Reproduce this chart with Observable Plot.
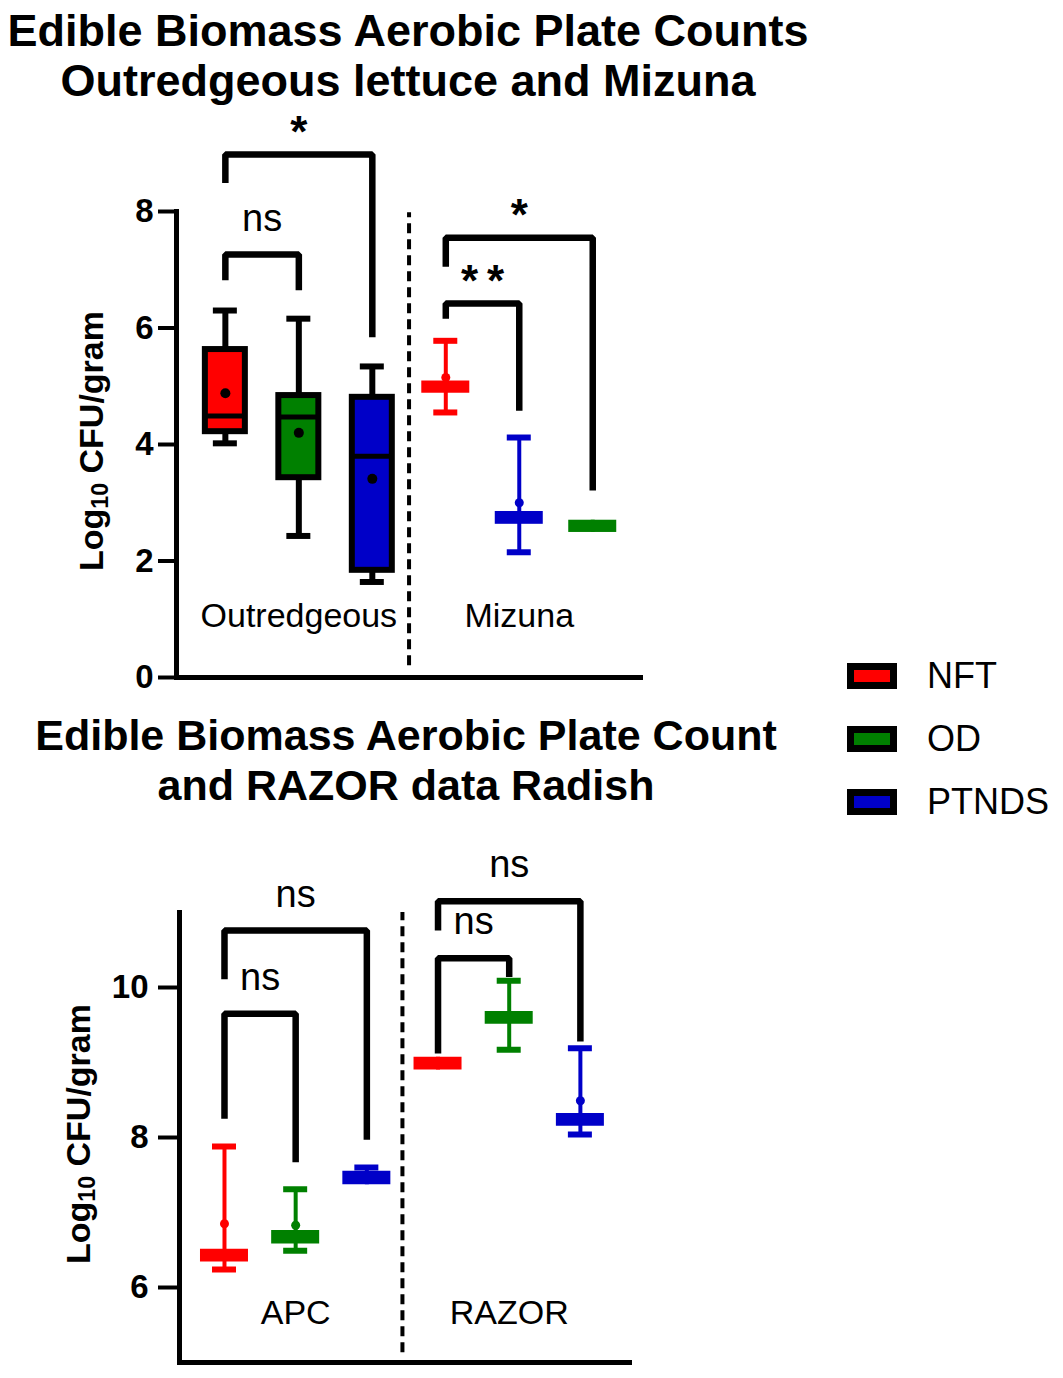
<!DOCTYPE html>
<html>
<head>
<meta charset="utf-8">
<script src="https://cdn.jsdelivr.net/npm/d3@7"></script>
<script src="https://cdn.jsdelivr.net/npm/@observablehq/plot@0.6"></script>
<style>
  html, body { margin: 0; padding: 0; background: #fff; }
  body { width: 1063px; height: 1378px; position: relative; overflow: hidden;
         font-family: "Liberation Sans", Arial, sans-serif; color: #000; }
  .title { position: absolute; left: 0; width: 816px; text-align: center;
           font-weight: bold; line-height: 50px; white-space: nowrap; }
  .ylab { position: absolute; font-weight: bold; font-size: 34px; line-height: 34px;
          white-space: nowrap; transform: translate(-50%, -50%) rotate(-90deg); }
  .ylab sub { font-size: 0.68em; vertical-align: -0.2em; line-height: 0; }
  .panel { position: absolute; left: 0; }
  .sw { position: absolute; left: 847px; width: 50px; height: 26px; box-sizing: border-box;
        border: 7px solid #000; }
  .lt { position: absolute; left: 927px; font-size: 36px; line-height: 37px; white-space: nowrap; }
</style>
</head>
<body>
<div class="title" style="top:6px; font-size:45px">Edible Biomass Aerobic Plate Counts<br>Outredgeous lettuce and Mizuna</div>
<div class="title" style="top:710px; width:812px; font-size:43px">Edible Biomass Aerobic Plate Count<br>and RAZOR data Radish</div>
<div class="ylab" style="left:91px; top:441px">Log<sub>10</sub> CFU/gram</div>
<div class="ylab" style="left:78px; top:1134px">Log<sub>10</sub> CFU/gram</div>
<div id="top" class="panel" style="top:110px"></div>
<div id="bot" class="panel" style="top:800px"></div>
<div id="legend"></div>
<script>
// ---------- shared ----------
const treatments = ["NFT", "OD", "PTNDS"];
const treatmentColors = ["#ff0000", "#008000", "#0000c8"];

// ---------- top panel: Outredgeous lettuce and Mizuna ----------
const topGroups     = ["Outredgeous", "Outredgeous", "Outredgeous", "Mizuna", "Mizuna", "Mizuna"];
const topTreatments = ["NFT", "OD", "PTNDS", "NFT", "PTNDS", "OD"];
const topMin    = [4.02, 2.43, 1.64, 4.55, 2.15, 2.49];
const topQ1     = [4.22, 3.43, 1.84, 4.88, 2.63, 2.49];
const topMedian = [4.49, 4.47, 3.80, 4.99, 2.74, 2.60];
const topQ3     = [5.63, 4.84, 4.81, 5.09, 2.85, 2.70];
const topMax    = [6.30, 6.16, 5.34, 5.78, 4.12, 2.70];
const topMean   = [4.88, 4.20, 3.41, 5.15, 3.00, 2.60];
const topYTicks = [0, 2, 4, 6, 8];
// significance brackets (indices into the category order)
const topBrFrom  = [0, 0, 3, 3];
const topBrTo    = [1, 2, 5, 4];
const topBrTop   = [7.26, 8.98, 7.55, 6.42];
const topBrLeft  = [6.82, 8.49, 7.05, 6.16];
const topBrRight = [6.65, 5.84, 3.21, 4.58];
const topBrLabel = ["ns", "*", "*", "*\u2009*"];

// ---------- bottom panel: Radish APC and RAZOR ----------
const botGroups     = ["APC", "APC", "APC", "RAZOR", "RAZOR", "RAZOR"];
const botTreatments = ["NFT", "OD", "PTNDS", "NFT", "OD", "PTNDS"];
const botMin    = [6.24, 6.49, 7.37, 8.90, 9.17, 8.04];
const botQ1     = [6.34, 6.58, 7.37, 8.90, 9.51, 8.15];
const botMedian = [6.42, 6.67, 7.46, 8.98, 9.59, 8.23];
const botQ3     = [6.51, 6.76, 7.55, 9.07, 9.68, 8.32];
const botMax    = [7.88, 7.31, 7.60, 9.07, 10.09, 9.19];
const botMean   = [6.85, 6.83, 7.47, 8.98, 9.62, 8.49];
const botYTicks = [6, 8, 10];
const botBrFrom  = [0, 0, 3, 3];
const botBrTo    = [1, 2, 4, 5];
const botBrTop   = [9.65, 10.76, 10.39, 11.15];
const botBrLeft  = [8.25, 10.11, 9.12, 10.76];
const botBrRight = [7.67, 7.97, 10.14, 9.28];
const botBrLabel = ["ns", "ns", "ns", "ns"];

const FONT = "Liberation Sans, Arial, sans-serif";

function buildPanel(cfg) {
  const rows = cfg.treatments.map((t, i) => ({
    group: cfg.groups[i], treatment: t, pos: i,
    min: cfg.min[i], q1: cfg.q1[i], median: cfg.median[i],
    q3: cfg.q3[i], max: cfg.max[i], mean: cfg.mean[i]
  }));
  const groupNames = Array.from(new Set(cfg.groups));
  const groupLabels = groupNames.map(g => ({
    group: g, pos: d3.mean(rows.filter(r => r.group === g), r => r.pos)
  }));
  const separators = groupNames.slice(1).map(g => {
    const first = rows.find(r => r.group === g).pos;
    return {pos: first - 0.5};
  });
  const brackets = cfg.brFrom.map((f, i) => ({
    id: i, from: f, to: cfg.brTo[i], mid: (f + cfg.brTo[i]) / 2, top: cfg.brTop[i],
    left: cfg.brLeft[i], right: cfg.brRight[i], label: cfg.brLabel[i]
  }));
  const bracketPts = brackets.flatMap(b => [
    {id: b.id, x: b.from, y: b.left},
    {id: b.id, x: b.from, y: b.top},
    {id: b.id, x: b.to, y: b.top},
    {id: b.id, x: b.to, y: b.right}
  ]);

  // convert a pixel half-width into x-units
  const innerW = cfg.width - cfg.marginLeft - cfg.marginRight;
  const u = px => px * (cfg.xDomain[1] - cfg.xDomain[0]) / innerW;

  const boxed = d => cfg.boxedGroups.includes(d.group);
  const plain = d => !boxed(d);

  const boxHalf = u(cfg.boxHalfPx), barHalf = u(cfg.barHalfPx), capHalf = u(cfg.capHalfPx);

  return Plot.plot({
    width: cfg.width, height: cfg.height,
    marginLeft: cfg.marginLeft, marginRight: cfg.marginRight,
    marginTop: cfg.marginTop, marginBottom: cfg.marginBottom,
    style: {fontFamily: FONT, background: "transparent", color: "#000", overflow: "visible"},
    x: {domain: cfg.xDomain, axis: null},
    y: {domain: cfg.yDomain},
    color: {domain: treatments, range: treatmentColors},
    marks: [
      Plot.frame({anchor: "left", stroke: "#000", strokeWidth: 5, strokeLinecap: "square"}),
      Plot.frame({anchor: "bottom", stroke: "#000", strokeWidth: 5, strokeLinecap: "square"}),
      Plot.axisY({ticks: cfg.yTicks, tickFormat: d3.format("d"), tickSize: cfg.tickSize, tickPadding: cfg.tickPadding,
                  strokeWidth: 4, fontSize: 33, fontWeight: "bold", label: null, fill: "#000"}),
      // group separator
      Plot.ruleX(separators, {x: "pos", y1: cfg.sepY[0], y2: cfg.sepY[1], stroke: "#000",
                              strokeWidth: 4, strokeDasharray: "10,6"}),
      // whiskers
      Plot.ruleX(rows, {filter: boxed, x: "pos", y1: "min", y2: "max", stroke: "#000", strokeWidth: 6}),
      Plot.ruleX(rows, {filter: plain, x: "pos", y1: "min", y2: "max", stroke: "treatment", strokeWidth: 4}),
      // caps
      Plot.ruleY(rows, {filter: d => boxed(d), y: "max", x1: d => d.pos - capHalf, x2: d => d.pos + capHalf, stroke: "#000", strokeWidth: 6}),
      Plot.ruleY(rows, {filter: d => boxed(d), y: "min", x1: d => d.pos - capHalf, x2: d => d.pos + capHalf, stroke: "#000", strokeWidth: 6}),
      Plot.ruleY(rows, {filter: d => plain(d) && d.max > d.q3, y: "max", x1: d => d.pos - capHalf, x2: d => d.pos + capHalf, stroke: "treatment", strokeWidth: 6}),
      Plot.ruleY(rows, {filter: d => plain(d) && d.min < d.q1, y: "min", x1: d => d.pos - capHalf, x2: d => d.pos + capHalf, stroke: "treatment", strokeWidth: 6}),
      // boxes
      Plot.rect(rows, {filter: boxed, x1: d => d.pos - boxHalf, x2: d => d.pos + boxHalf, y1: "q1", y2: "q3",
                       fill: "treatment", stroke: "#000", strokeWidth: 6}),
      Plot.rect(rows, {filter: plain, x1: d => d.pos - barHalf, x2: d => d.pos + barHalf, y1: "q1", y2: "q3",
                       fill: "treatment"}),
      // medians
      Plot.ruleY(rows, {filter: boxed, y: "median", x1: d => d.pos - boxHalf, x2: d => d.pos + boxHalf, stroke: "#000", strokeWidth: 5}),
      // means
      Plot.dot(rows, {filter: boxed, x: "pos", y: "mean", r: 5, fill: "#000"}),
      Plot.dot(rows, {filter: plain, x: "pos", y: "mean", r: 4.5, fill: "treatment"}),
      // significance brackets
      Plot.line(bracketPts, {x: "x", y: "y", z: "id", stroke: "#000", strokeWidth: 6.5,
                             strokeLinejoin: "miter", strokeLinecap: "butt"}),
      Plot.text(brackets, {filter: b => b.label === "ns", x: "mid", y: "top", text: "label",
                           lineAnchor: "middle", dy: -36, fontSize: 38, fill: "#000"}),
      Plot.text(brackets, {filter: b => b.label !== "ns", x: "mid", y: "top", text: "label",
                           lineAnchor: "middle", dy: -22, fontSize: 44, fontWeight: "bold", fill: "#000"}),
      // group labels
      Plot.text(groupLabels, {x: "pos", y: cfg.groupLabelY, text: "group", fontSize: 34, fill: "#000"})
    ]
  });
}

document.getElementById("top").appendChild(buildPanel({
  groups: topGroups, treatments: topTreatments,
  min: topMin, q1: topQ1, median: topMedian, q3: topQ3, max: topMax, mean: topMean,
  brFrom: topBrFrom, brTo: topBrTo, brTop: topBrTop, brLeft: topBrLeft, brRight: topBrRight, brLabel: topBrLabel,
  yTicks: topYTicks, yDomain: [0, 8], xDomain: [-0.665, 5.65],
  width: 660, height: 600, marginLeft: 176, marginRight: 20, marginTop: 101, marginBottom: 33,
  tickSize: 18, tickPadding: 5, sepY: [0.2, 7.98], groupLabelY: 1.06,
  boxedGroups: ["Outredgeous"], boxHalfPx: 20, barHalfPx: 24, capHalfPx: 12
}));

document.getElementById("bot").appendChild(buildPanel({
  groups: botGroups, treatments: botTreatments,
  min: botMin, q1: botQ1, median: botMedian, q3: botQ3, max: botMax, mean: botMean,
  brFrom: botBrFrom, brTo: botBrTo, brTop: botBrTop, brLeft: botBrLeft, brRight: botBrRight, brLabel: botBrLabel,
  yTicks: botYTicks, yDomain: [5, 11], xDomain: [-0.632, 5.69],
  width: 650, height: 578, marginLeft: 179, marginRight: 21, marginTop: 112, marginBottom: 16,
  tickSize: 21, tickPadding: 10, sepY: [5.13, 11], groupLabelY: 5.66,
  boxedGroups: [], boxHalfPx: 20, barHalfPx: 24, capHalfPx: 12
}));

// legend
const legend = document.getElementById("legend");
const swTops = [663, 726, 789];
treatments.forEach((t, i) => {
  const sw = document.createElement("div");
  sw.className = "sw";
  sw.style.top = swTops[i] + "px";
  sw.style.background = treatmentColors[i];
  legend.appendChild(sw);
  const lt = document.createElement("div");
  lt.className = "lt";
  lt.style.top = (swTops[i] - 6) + "px";
  lt.textContent = t;
  legend.appendChild(lt);
});
</script>
</body>
</html>
